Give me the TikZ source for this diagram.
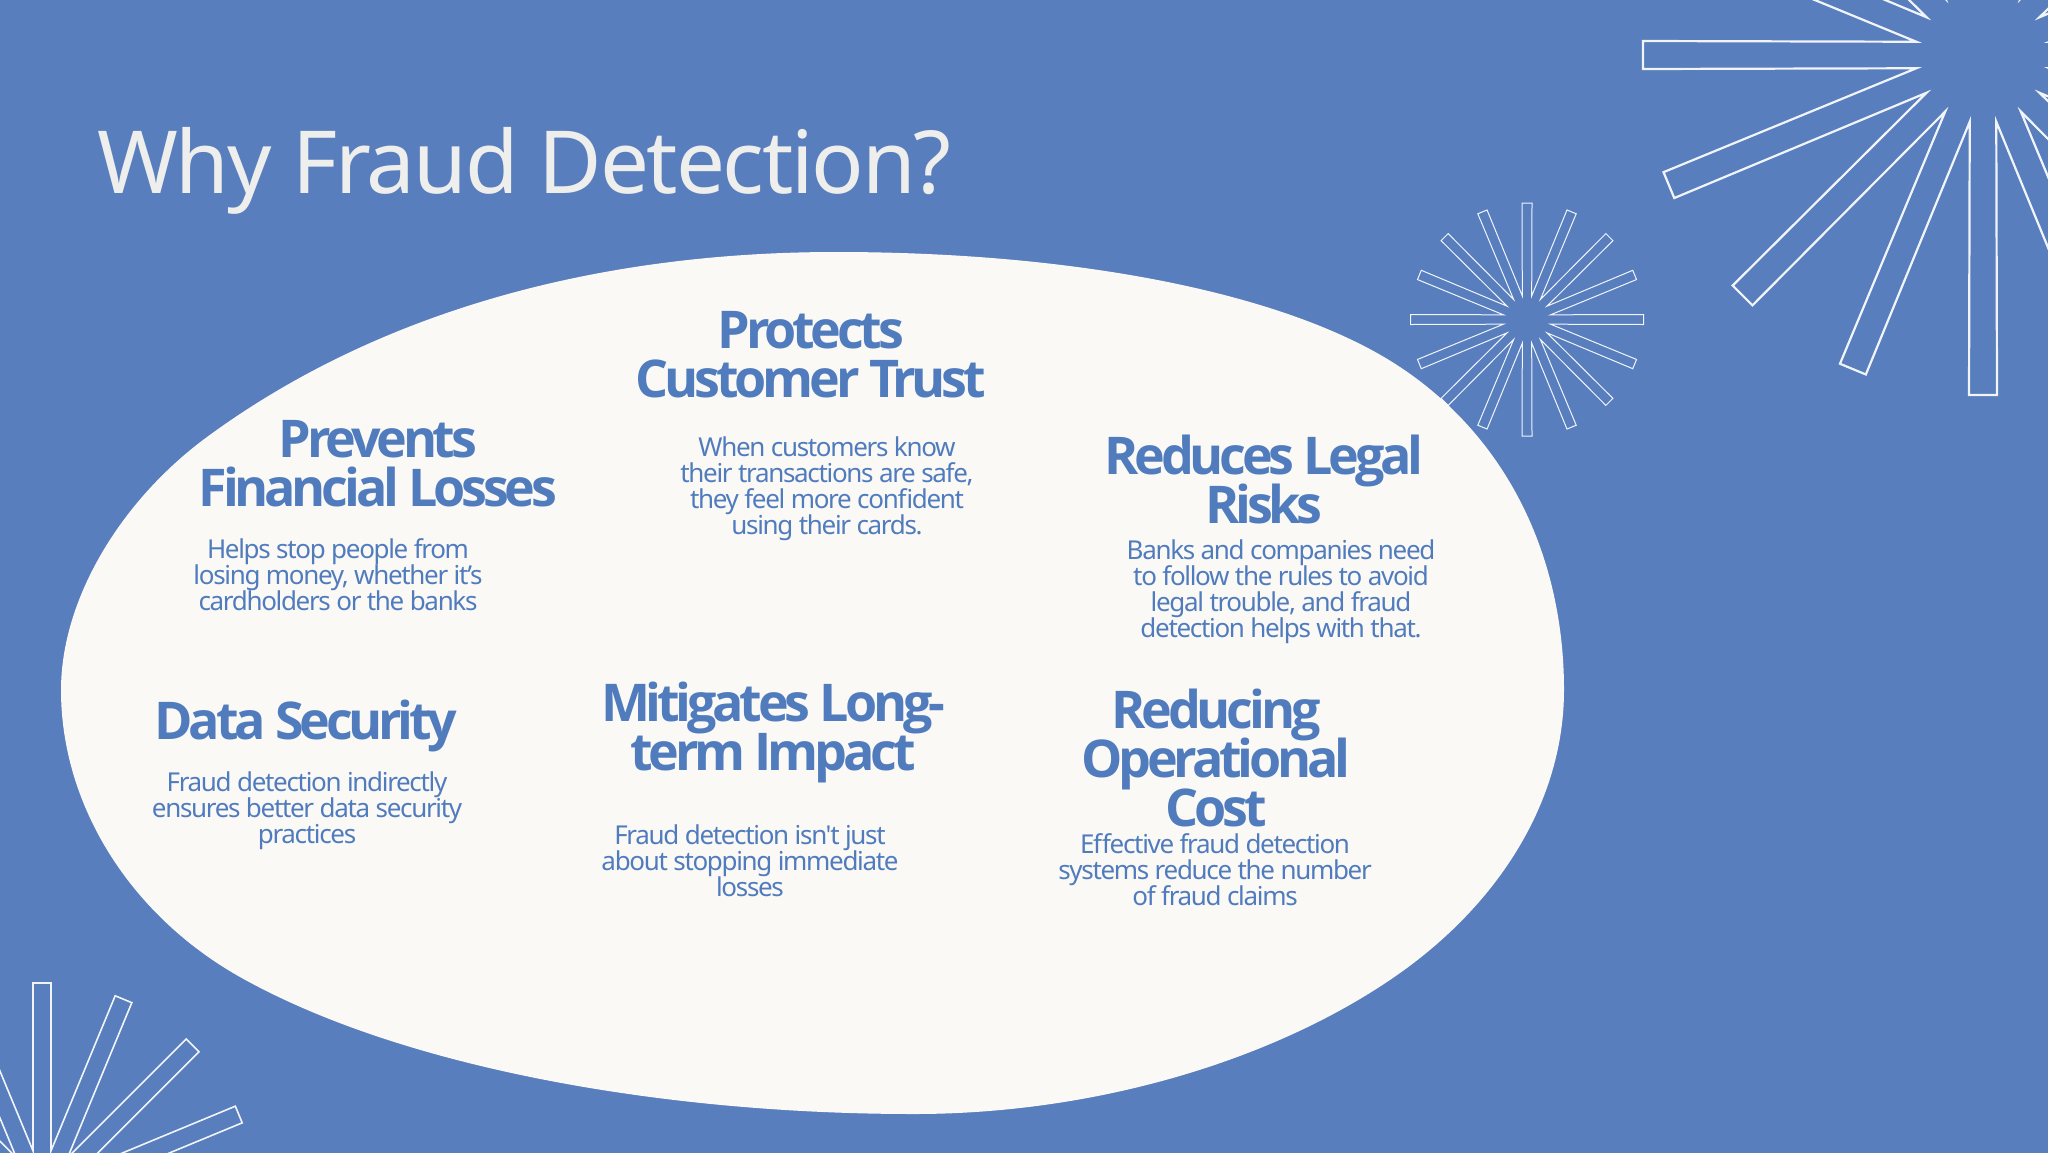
\documentclass[tikz,border=0pt]{standalone}
\usepackage{fontspec}
\setmainfont{Noto Sans}
\newfontfamily\titlefont[LetterSpace=-2.6]{Noto Sans}
\newfontfamily\headfont[LetterSpace=-8.1]{Open Sans}
\newfontfamily\bodyfont[LetterSpace=-5.1]{Noto Sans}
\definecolor{bgblue}{RGB}{88,126,190}
\definecolor{blobfill}{RGB}{251,249,245}
\definecolor{inkblue}{RGB}{80,124,190}
\definecolor{titleink}{RGB}{238,238,236}
\newcommand{\headstyle}{\headfont\bfseries\fontsize{52}{49}\selectfont\setlength{\lineskiplimit}{-1000pt}\relax}
\newcommand{\bodystyle}{\bodyfont\fontsize{26}{26}\selectfont\setlength{\lineskiplimit}{-1000pt}\relax}
\tikzset{
  headtext/.style={text=inkblue,align=center,inner sep=0pt,font=\headstyle},
  bodytext/.style={text=inkblue,align=center,inner sep=0pt,font=\bodystyle},
  burst/.style={draw=white,line join=miter,fill=none},
}
\newcommand{\starburst}[6]{% cx cy R halfwidth r stroke
  \draw[burst,line width=#6,opacity=0.92]
  \foreach \k in {0,...,15}{
    \pgfextra{\pgfmathsetmacro{\ang}{\k*22.5}\pgfmathsetmacro{\angb}{\ang+11.25}}
    \ifnum\k=0 ({#1+#3*cos(\ang)-(-#4)*sin(\ang)},{#2+#3*sin(\ang)+(-#4)*cos(\ang)}) \else -- ({#1+#3*cos(\ang)-(-#4)*sin(\ang)},{#2+#3*sin(\ang)+(-#4)*cos(\ang)}) \fi
    -- ({#1+#3*cos(\ang)-(#4)*sin(\ang)},{#2+#3*sin(\ang)+(#4)*cos(\ang)})
    -- ({#1+#5*cos(\angb)},{#2+#5*sin(\angb)})
  } -- cycle;
}
\begin{document}
\begin{tikzpicture}[x=1pt,y=-1pt]
\useasboundingbox (0,0) rectangle (2048,1152);
\begin{scope}
\clip (0,0) rectangle (2048,1152);
\fill[bgblue] (-5,-5) rectangle (2053,1157);
\fill[blobfill] (836,252)
  .. controls (600,252) and (380,310) .. (207,437)
  .. controls (120,501) and (61,600) .. (61,690)
  .. controls (61,805) and (130,915) .. (240,977)
  .. controls (400,1067) and (660,1114) .. (914,1114)
  .. controls (1100,1114) and (1280,1058) .. (1400,973)
  .. controls (1500,902) and (1564,800) .. (1564,690)
  .. controls (1564,560) and (1510,440) .. (1400,367)
  .. controls (1290,294) and (1080,252) .. (836,252) -- cycle;
\starburst{1983}{55}{340}{14}{68}{2.2pt}
\starburst{1527}{319.5}{116.5}{5}{24}{1pt}
\starburst{42}{1196}{213}{9}{46}{1.6pt}
\end{scope}
\node[anchor=base west,inner sep=0pt,text=titleink,font=\titlefont\fontsize{87}{96}\selectfont] (title) at (97,193) {Why Fraud Detection?};
\node[headtext] (h1) at (378,464) {Prevents\\Financial Losses};
\node[bodytext] (b1) at (338,575) {Helps stop people from\\losing money, whether it’s\\cardholders or the banks};
\node[headtext] (h2) at (811,355) {Protects\\Customer Trust};
\node[bodytext] (b2) at (827,489) {When customers know\\their transactions are safe,\\they feel more confident\\using their cards.};
\node[headtext] (h3) at (1264,479) {Reduces Legal\\Risks};
\node[bodytext] (b3) at (1281,592) {Banks and companies need\\to follow the rules to avoid\\legal trouble, and fraud\\detection helps with that.};
\node[headtext] (h4) at (306,726) {Data Security};
\node[bodytext] (b4) at (307,811) {Fraud detection indirectly\\ensures better data security\\practices};
\node[headtext] (h5) at (773,732) {Mitigates Long-\\term Impact};
\node[bodytext] (b5) at (750,861) {Fraud detection isn't just\\about stopping immediate\\losses};
\node[headtext] (h6) at (1216,758) {Reducing\\Operational\\Cost};
\node[bodytext] (b6) at (1215,870) {Effective fraud detection\\systems reduce the number\\of fraud claims};
\end{tikzpicture}
\end{document}
